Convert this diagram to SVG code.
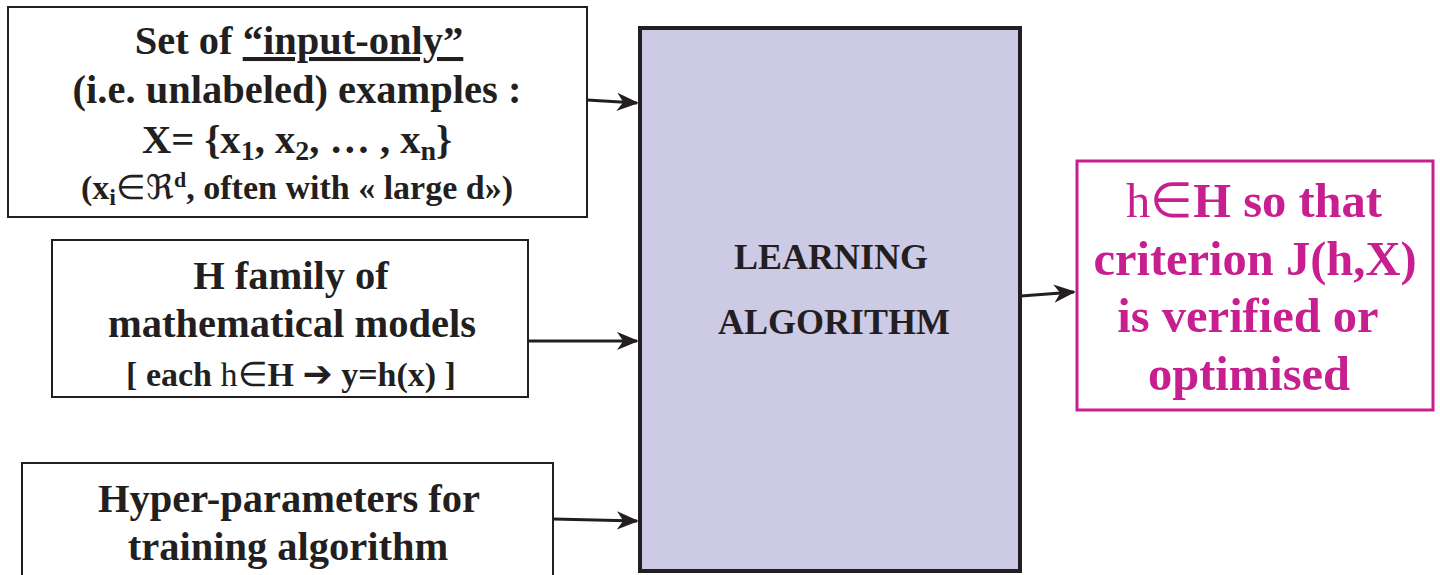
<svg xmlns="http://www.w3.org/2000/svg" width="1440" height="575" viewBox="0 0 1440 575">
<style>
.box{fill:#fff;stroke:#231f20;stroke-width:2}
.t{font-family:"Liberation Serif","Times New Roman",serif;font-weight:bold;fill:#231f20;text-anchor:middle}
.m{fill:#c71f8f}
.n{font-weight:normal}
.c{stroke:#231f20;stroke-width:3;fill:none}
</style>
<defs>
<marker id="ah2" viewBox="0 0 12 10" refX="11" refY="5" markerWidth="22" markerHeight="19" markerUnits="userSpaceOnUse" orient="auto">
<path d="M0,0 L12,5 L0,10 L3.5,5 Z" fill="#231f20"/>
</marker>
</defs>
<g id="connectors">
<path class="c" d="M587,100 L637,103" marker-end="url(#ah2)"/>
<path class="c" d="M528,341 L637,341" marker-end="url(#ah2)"/>
<path class="c" d="M553,519 L637,521" marker-end="url(#ah2)"/>
<path class="c" d="M1021,296 L1074,292" marker-end="url(#ah2)"/>
</g>
<g id="inputs">
<rect class="box" x="8" y="7" width="579" height="210"/>
<text class="t" x="299" y="54" font-size="40.5">Set of <tspan text-decoration="underline">“input-only”</tspan></text>
<text class="t" x="297" y="103" font-size="40.5">(i.e. unlabeled) examples :</text>
<text class="t" x="297" y="153" font-size="40.5">X= {x<tspan font-size="28" dy="7">1</tspan><tspan dy="-7">, x</tspan><tspan font-size="28" dy="7">2</tspan><tspan dy="-7">, … , x</tspan><tspan font-size="28" dy="7">n</tspan><tspan dy="-7">}</tspan></text>
<text class="t" x="297" y="199" font-size="34">(x<tspan font-size="24" dy="6">i</tspan><tspan dy="-6" class="n">∈ℜ</tspan><tspan font-size="22" dy="-12">d</tspan><tspan dy="12">, often with « large d»)</tspan></text>
</g>
<g id="models">
<rect class="box" x="52" y="240" width="476" height="157"/>
<text class="t" x="291" y="289" font-size="40.5">H family of</text>
<text class="t" x="292" y="337" font-size="40.5">mathematical models</text>
<text class="t" x="291" y="386" font-size="34">[ each <tspan class="n">h∈</tspan>H <tspan font-family="DejaVu Sans" font-size="36">➔</tspan> y=h(x) ]</text>
</g>
<g id="hyper">
<rect class="box" x="22" y="463" width="531" height="130"/>
<text class="t" x="289" y="512" font-size="40.5">Hyper-parameters for</text>
<text class="t" x="288" y="560" font-size="40.5">training algorithm</text>
</g>
<g id="algorithm">
<rect x="640" y="28" width="380" height="543" fill="#cdcae6" stroke="#231f20" stroke-width="4"/>
<text class="t" x="831" y="269" font-size="36">LEARNING</text>
<text class="t" x="834" y="334" font-size="36">ALGORITHM</text>
</g>
<g id="result">
<rect x="1077" y="161" width="356" height="249" fill="#fff" stroke="#c71f8f" stroke-width="3"/>
<text class="t m" x="1254" y="217" font-size="48.5"><tspan class="n">h∈</tspan>H so that</text>
<text class="t m" x="1255" y="275" font-size="48.5">criterion J(h,X)</text>
<text class="t m" x="1248" y="332" font-size="48.5">is verified or</text>
<text class="t m" x="1249" y="390" font-size="48.5">optimised</text>
</g>
</svg>
